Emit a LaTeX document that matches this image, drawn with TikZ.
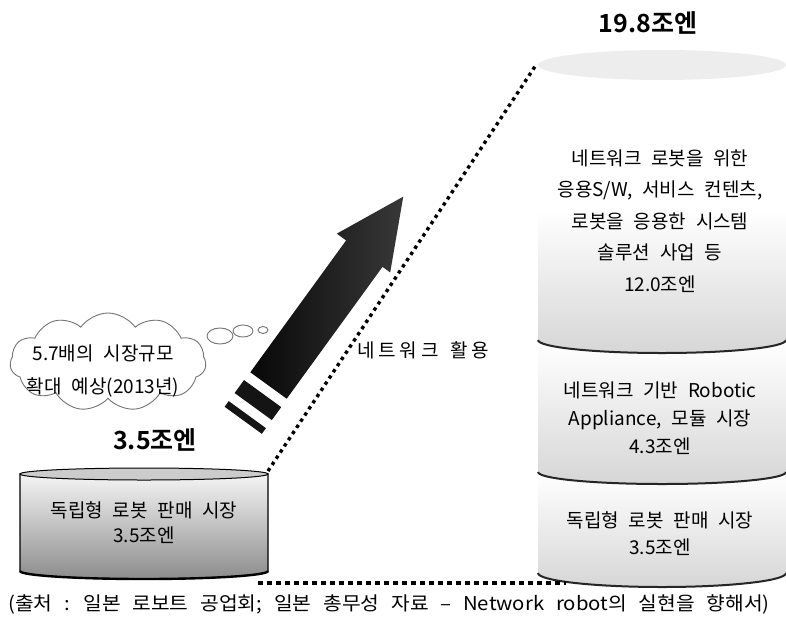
\documentclass[tikz,border=0pt]{standalone}
\usepackage{fontspec}
\usetikzlibrary{shapes.symbols}
\setmainfont{Noto Sans CJK KR}[WordSpace=2.3,BoldFont={Noto Sans CJK KR Bold}]
\newfontfamily\capfont{Noto Sans CJK KR}[WordSpace=2.6]
\newfontfamily\netfont{Noto Sans CJK KR}[LetterSpace=20,WordSpace=1.5]
\begin{document}
\begin{tikzpicture}[x=1pt,y=-1pt,
  bodytext/.style={align=center,inner sep=0pt,font=\fontsize{19}{#1}\selectfont},
  bodytext/.default=25,
  bigtext/.style={inner sep=0pt,font=\fontsize{25}{28}\selectfont\bfseries},
  dotline/.style={line width=3.4pt,dash pattern=on 3.4pt off 4pt},
  dotlineb/.style={line width=4pt,dash pattern=on 4.5pt off 4.5pt},
  segarc/.style={line width=2pt,black!85},
  segfill/.style={top color=white,bottom color=black!16},
  arrowfill/.style={left color=black!97,right color=black!78}
]
\useasboundingbox (0,0) rectangle (786,624);
\fill[white] (0,0) rectangle (786,624);

% ---------- big cylinder ----------
% segment 3
\shade[segfill] (538,473) -- (538,573) arc[start angle=180,end angle=0,x radius=124,y radius=14] -- (786,473) -- cycle;
\draw[segarc] (538,573) arc[start angle=180,end angle=0,x radius=124,y radius=14];
% segment 2
\shade[segfill] (538,341) -- (538,472) arc[start angle=180,end angle=0,x radius=124,y radius=12] -- (786,341) -- cycle;
\draw[segarc] (538,472) arc[start angle=180,end angle=0,x radius=124,y radius=12];
% segment 1
\shade[segfill,middle color=white] (538,65) -- (538,340) arc[start angle=180,end angle=0,x radius=124,y radius=13] -- (786,65) -- cycle;
\draw[segarc] (538,340) arc[start angle=180,end angle=0,x radius=124,y radius=13];
\fill[black!7] (662,65) ellipse[x radius=124,y radius=15];
\coordinate (bTL) at (536,65);
\coordinate (bBL) at (566,583);

\node[bodytext=31.5] (seg1) at (660,221) {네트워크 로봇을 위한\\응용S/W, 서비스 컨텐츠,\\로봇을 응용한 시스템\\솔루션 사업 등\\12.0조엔};
\node[bodytext=28] (seg2) at (660,418) {네트워크 기반 Robotic\\Appliance, 모듈 시장\\4.3조엔};
\node[bodytext=27] (seg3) at (660,534) {독립형 로봇 판매 시장\\3.5조엔};
\node[bigtext] (total) at (648,23) {19.8조엔};

% ---------- small cylinder ----------
\shade[top color=black!4,bottom color=black!45,draw=black,line width=1.2pt] (20,474) -- (20,571) arc[start angle=180,end angle=0,x radius=124,y radius=8] -- (268,474) -- cycle;
\draw[line width=2.4pt] (20,571) arc[start angle=180,end angle=0,x radius=124,y radius=8];
\filldraw[fill=black!20,draw=black,line width=1pt] (144,474) ellipse[x radius=124,y radius=6];
\coordinate (sTR) at (268,471);
\coordinate (sBR) at (258,583);
\node[bodytext] (small) at (144,523) {독립형 로봇 판매 시장\\3.5조엔};
\node[bigtext] (start) at (155,440) {3.5조엔};

% ---------- dotted connectors ----------
\draw[dotline] (sTR) -- (bTL);
\draw[dotlineb] (sBR) -- (bBL);
\node[inner sep=0pt,anchor=west,font=\netfont\fontsize{19}{22}\selectfont] (net) at (357,350) {네트워크 활용};

% ---------- arrow ----------
\begin{scope}[shift={(268.5,385.5)},rotate=54]
  \shade[arrowfill] (0,-22.5) -- (163,-22.5) -- (163,-34) -- (232,-2) -- (163,32) -- (163,22.5) -- (0,22.5) -- cycle;
  \fill[black!92] (-26,-23) rectangle (-10,23);
  \fill[black!92] (-43,-23) rectangle (-36,23);
\end{scope}

% ---------- thought cloud ----------
\filldraw[fill=white,draw=black!55,line width=0.9pt] (220,336) ellipse[x radius=13,y radius=8];
\filldraw[fill=white,draw=black!55,line width=0.9pt] (243,331) ellipse[x radius=10,y radius=6];
\filldraw[fill=white,draw=black!55,line width=0.9pt] (263,330) ellipse[x radius=5,y radius=3.5];
\node[cloud,draw=black!55,fill=white,line width=0.9pt,cloud puffs=11,cloud puff arc=110,aspect=2.1,minimum width=196pt,minimum height=98pt,inner sep=0pt] (cloud) at (108,362) {};
\node[bodytext=33] (cloudtext) at (103,371) {5.7배의 시장규모\\확대 예상(2013년)};

% ---------- caption ----------
\node[inner sep=0pt,xscale=1.07,transform shape,font=\capfont\fontsize{19}{21}\selectfont] (caption) at (389,604) {(출처 : 일본 로보트 공업회; 일본 총무성 자료 – Network robot의 실현을 향해서)};
\end{tikzpicture}
\end{document}
